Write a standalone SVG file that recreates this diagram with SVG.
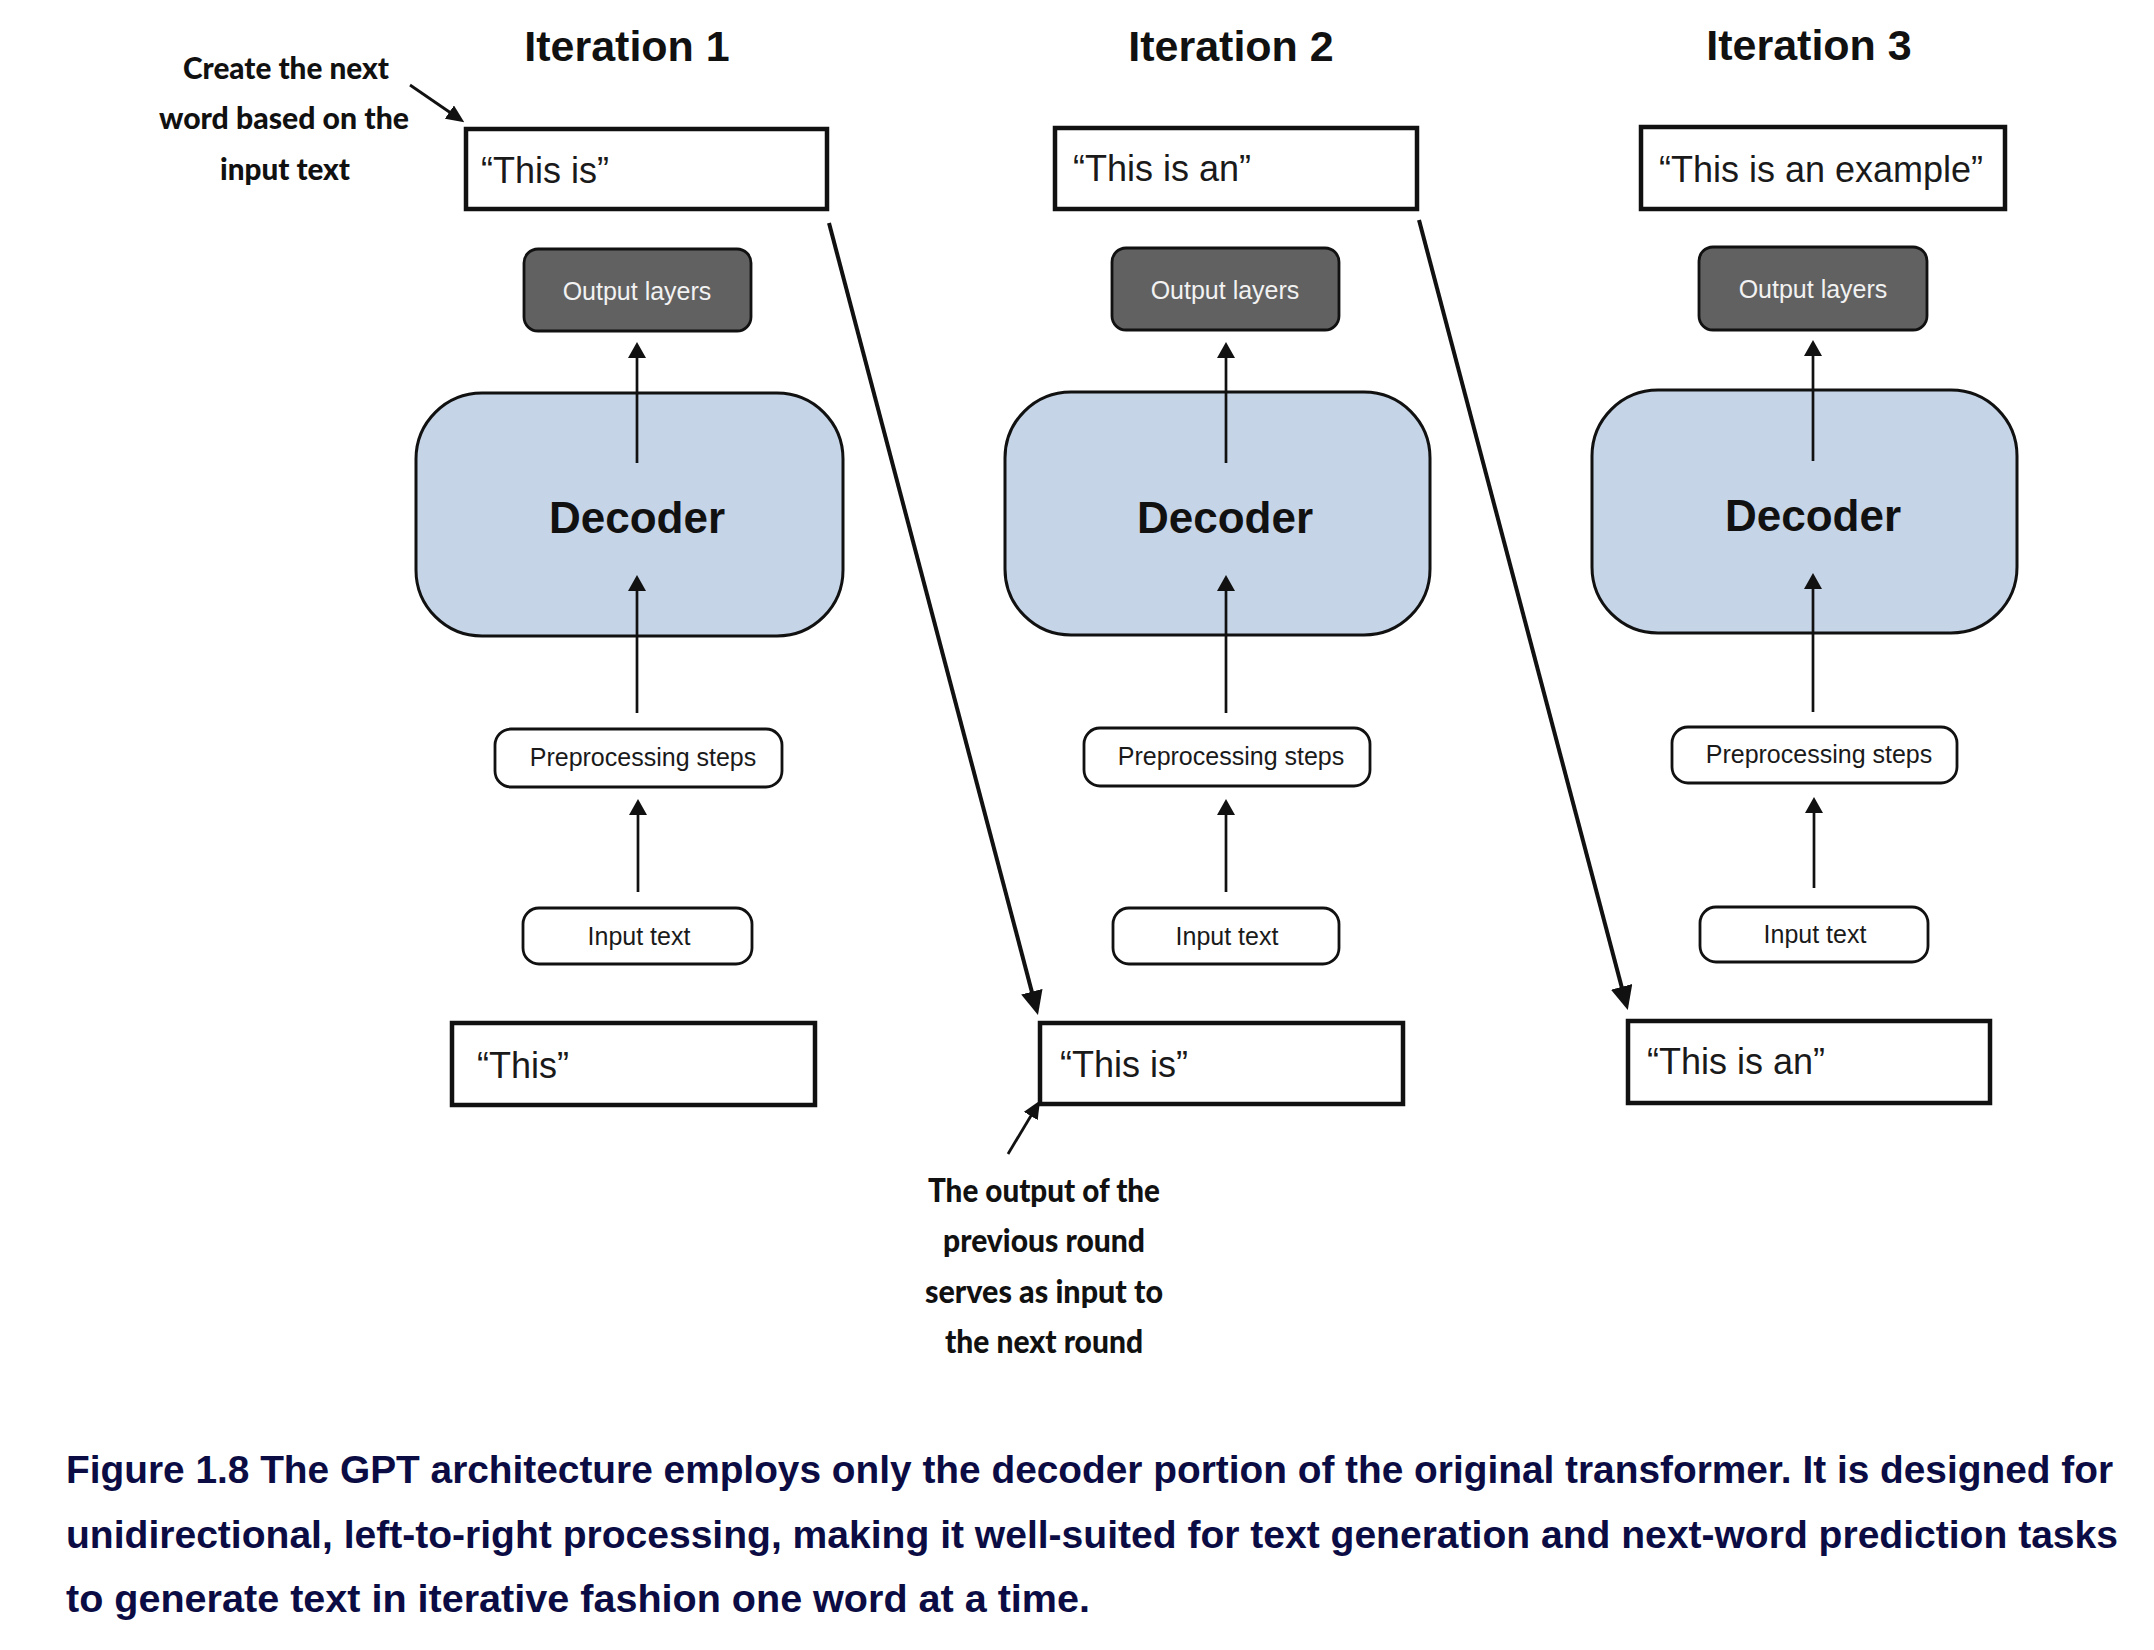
<svg xmlns="http://www.w3.org/2000/svg" width="2154" height="1650" viewBox="0 0 2154 1650">
<style>
.title{font-family:"Liberation Sans",Arial,sans-serif;font-weight:bold;font-size:43px;fill:#111;text-anchor:middle}
.qbox{fill:#fff;stroke:#111;stroke-width:4.5}
.qtext{font-family:"Liberation Sans",Arial,sans-serif;font-size:36px;fill:#1a1a1a}
.out{fill:#616161;stroke:#111;stroke-width:2.8}
.outtext{font-family:"Liberation Sans",Arial,sans-serif;font-size:25px;fill:#f2f2f2;text-anchor:middle}
.dec{fill:#c5d4e7;stroke:#111;stroke-width:3}
.dectext{font-family:"Liberation Sans",Arial,sans-serif;font-weight:bold;font-size:44px;fill:#111;text-anchor:middle}
.step{fill:#fff;stroke:#111;stroke-width:2.8}
.steptext{font-family:"Liberation Sans",Arial,sans-serif;font-size:25px;fill:#1a1a1a;text-anchor:middle}
.ann{font-family:Lato,"DejaVu Sans Condensed",sans-serif;font-weight:900;font-size:30px;fill:#111;text-anchor:middle}
.ann2{font-family:Lato,"DejaVu Sans Condensed",sans-serif;font-weight:900;font-size:32px;fill:#111;text-anchor:middle}
.cap{font-family:"Liberation Sans",Arial,sans-serif;font-weight:bold;font-size:35px;fill:#0c0c45}
.v{stroke:#111;stroke-width:2.7;fill:none;marker-end:url(#ah)}
.d{stroke:#111;stroke-width:4;fill:none;marker-end:url(#ahBig)}
.a{stroke:#111;stroke-width:2.8;fill:none;marker-end:url(#ahSmall)}
</style>
<defs>
<marker id="ah" markerUnits="userSpaceOnUse" viewBox="0 0 16 18" markerWidth="16" markerHeight="18" refX="6" refY="9" orient="auto">
<path d="M0,0 L16,9 L0,18 z" fill="#111"/>
</marker>
<marker id="ahBig" markerUnits="userSpaceOnUse" viewBox="0 0 24 22" markerWidth="24" markerHeight="22" refX="10" refY="11" orient="auto">
<path d="M0,0 L24,11 L0,22 z" fill="#111"/>
</marker>
<marker id="ahSmall" markerUnits="userSpaceOnUse" viewBox="0 0 18 16" markerWidth="18" markerHeight="16" refX="7" refY="8" orient="auto">
<path d="M0,0 L18,8 L0,16 z" fill="#111"/>
</marker>
</defs>
<rect width="2154" height="1650" fill="#fff"/>

<g id="titles">
<text class="title" x="627" y="61">Iteration 1</text>
<text class="title" x="1231" y="61">Iteration 2</text>
<text class="title" x="1809" y="60">Iteration 3</text>
</g>

<!-- Iteration 1 -->
<g id="it1-top"><rect class="qbox" x="466" y="129" width="361" height="80"/><text class="qtext" x="481" y="183">“This is”</text></g>
<g id="it1-output"><rect class="out" x="524" y="249" width="227" height="82" rx="14"/><text class="outtext" x="637" y="300">Output layers</text></g>
<g id="it1-decoder"><rect class="dec" x="416" y="393" width="427" height="243" rx="66"/><text class="dectext" x="637" y="533">Decoder</text></g>
<g id="it1-pre"><rect class="step" x="495" y="729" width="287" height="58" rx="16"/><text class="steptext" x="643" y="766">Preprocessing steps</text></g>
<g id="it1-input"><rect class="step" x="523" y="908" width="229" height="56" rx="16"/><text class="steptext" x="639" y="945">Input text</text></g>
<g id="it1-bottom"><rect class="qbox" x="452" y="1023" width="363" height="82"/><text class="qtext" x="477" y="1078">“This”</text></g>

<!-- Iteration 2 -->
<g id="it2-top"><rect class="qbox" x="1055" y="128" width="362" height="81"/><text class="qtext" x="1073" y="181">“This is an”</text></g>
<g id="it2-output"><rect class="out" x="1112" y="248" width="227" height="82" rx="14"/><text class="outtext" x="1225" y="299">Output layers</text></g>
<g id="it2-decoder"><rect class="dec" x="1005" y="392" width="425" height="243" rx="66"/><text class="dectext" x="1225" y="533">Decoder</text></g>
<g id="it2-pre"><rect class="step" x="1084" y="728" width="286" height="58" rx="16"/><text class="steptext" x="1231" y="765">Preprocessing steps</text></g>
<g id="it2-input"><rect class="step" x="1113" y="908" width="226" height="56" rx="16"/><text class="steptext" x="1227" y="945">Input text</text></g>
<g id="it2-bottom"><rect class="qbox" x="1040" y="1023" width="363" height="81"/><text class="qtext" x="1060" y="1077">“This is”</text></g>

<!-- Iteration 3 -->
<g id="it3-top"><rect class="qbox" x="1641" y="127" width="364" height="82"/><text class="qtext" x="1659" y="182">“This is an example”</text></g>
<g id="it3-output"><rect class="out" x="1699" y="247" width="228" height="83" rx="14"/><text class="outtext" x="1813" y="298">Output layers</text></g>
<g id="it3-decoder"><rect class="dec" x="1592" y="390" width="425" height="243" rx="66"/><text class="dectext" x="1813" y="531">Decoder</text></g>
<g id="it3-pre"><rect class="step" x="1672" y="727" width="285" height="56" rx="16"/><text class="steptext" x="1819" y="763">Preprocessing steps</text></g>
<g id="it3-input"><rect class="step" x="1700" y="907" width="228" height="55" rx="16"/><text class="steptext" x="1815" y="943">Input text</text></g>
<g id="it3-bottom"><rect class="qbox" x="1628" y="1021" width="362" height="82"/><text class="qtext" x="1647" y="1074">“This is an”</text></g>

<!-- Annotations -->
<g id="note-create">
<text class="ann" x="286" y="79" textLength="206" lengthAdjust="spacingAndGlyphs">Create the next</text>
<text class="ann" x="284" y="129" textLength="250" lengthAdjust="spacingAndGlyphs">word based on the</text>
<text class="ann" x="285" y="180" textLength="130" lengthAdjust="spacingAndGlyphs">input text</text>
</g>
<g id="note-output">
<text class="ann2" x="1044" y="1202" textLength="232" lengthAdjust="spacingAndGlyphs">The output of the</text>
<text class="ann2" x="1044" y="1252" textLength="202" lengthAdjust="spacingAndGlyphs">previous round</text>
<text class="ann2" x="1044" y="1303" textLength="238" lengthAdjust="spacingAndGlyphs">serves as input to</text>
<text class="ann2" x="1044" y="1353" textLength="198" lengthAdjust="spacingAndGlyphs">the next round</text>
</g>

<!-- Connectors -->
<g id="connectors">
<line class="v" x1="637" y1="463" x2="637" y2="352"/>
<line class="v" x1="637" y1="713" x2="637" y2="585"/>
<line class="v" x1="638" y1="892" x2="638" y2="809"/>
<line class="v" x1="1226" y1="463" x2="1226" y2="352"/>
<line class="v" x1="1226" y1="713" x2="1226" y2="585"/>
<line class="v" x1="1226" y1="892" x2="1226" y2="809"/>
<line class="v" x1="1813" y1="461" x2="1813" y2="350"/>
<line class="v" x1="1813" y1="712" x2="1813" y2="583"/>
<line class="v" x1="1814" y1="888" x2="1814" y2="807"/>
<line class="d" x1="829" y1="223" x2="1034.4" y2="1001.4"/>
<line class="d" x1="1419" y1="220" x2="1624.2" y2="996.5"/>
<line class="a" x1="410" y1="85" x2="455.2" y2="116"/>
<line class="a" x1="1008" y1="1154" x2="1034.4" y2="1110"/>
</g>

<g id="caption">
<text class="cap" transform="translate(66,1483) scale(1,1.13)" x="0" y="0" textLength="2047" lengthAdjust="spacingAndGlyphs">Figure 1.8 The GPT architecture employs only the decoder portion of the original transformer. It is designed for</text>
<text class="cap" transform="translate(66,1548) scale(1,1.13)" x="0" y="0" textLength="2052" lengthAdjust="spacingAndGlyphs">unidirectional, left-to-right processing, making it well-suited for text generation and next-word prediction tasks</text>
<text class="cap" transform="translate(66,1612) scale(1,1.13)" x="0" y="0" textLength="1024" lengthAdjust="spacingAndGlyphs">to generate text in iterative fashion one word at a time.</text>
</g>
</svg>
